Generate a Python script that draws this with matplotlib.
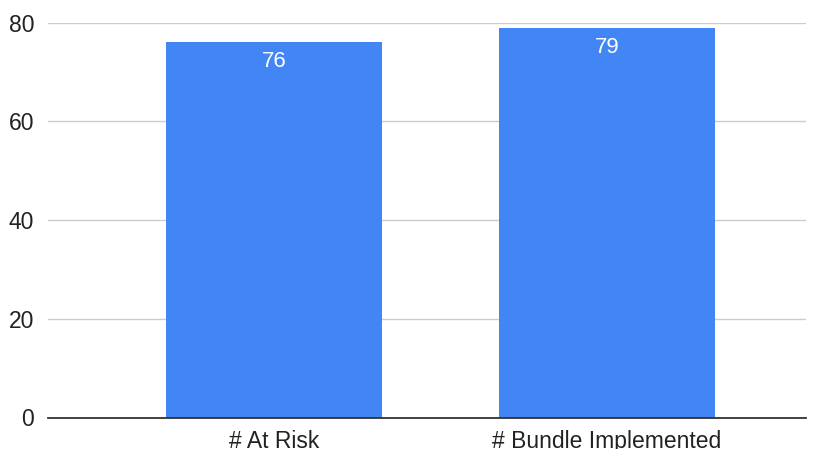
import matplotlib
matplotlib.use("Agg")
import matplotlib.pyplot as plt

categories = ["# At Risk", "# Bundle Implemented"]
values = [76, 79]
yticks = [0, 20, 40, 60, 80]

plt.rcParams['font.family'] = ['Liberation Sans', 'DejaVu Sans']

fig = plt.figure(figsize=(8.19, 4.49), dpi=100)
ax = fig.add_axes([48/819, (449-417.5)/449, (806-48)/819, (417.5-22.7)/449])

x = list(range(len(categories)))
bars = ax.bar(x, values, width=0.647, color="#4285F4", zorder=3)

for xi, v in zip(x, values):
    ax.annotate(str(v), xy=(xi, v), xytext=(0, -14), textcoords="offset points",
                ha="center", va="center", color="white", fontsize=16, zorder=4)

ax.set_xlim(-0.678, 1.597)
ax.set_ylim(0, 80)
ax.set_yticks(yticks)
ax.set_xticks(x)
ax.set_xticklabels(categories)
ax.tick_params(axis="both", length=0, labelsize=16.5, colors="#222222")
ax.tick_params(axis="y", pad=10)
ax.tick_params(axis="x", pad=9)
ax.grid(axis="y", color="#cccccc", linewidth=1, zorder=0)
for s in ["top", "right", "left"]:
    ax.spines[s].set_visible(False)
ax.spines["bottom"].set_color("#333333")
ax.spines["bottom"].set_linewidth(1.3)
ax.spines["bottom"].set_zorder(5)

fig.savefig("out.png", dpi=100)
